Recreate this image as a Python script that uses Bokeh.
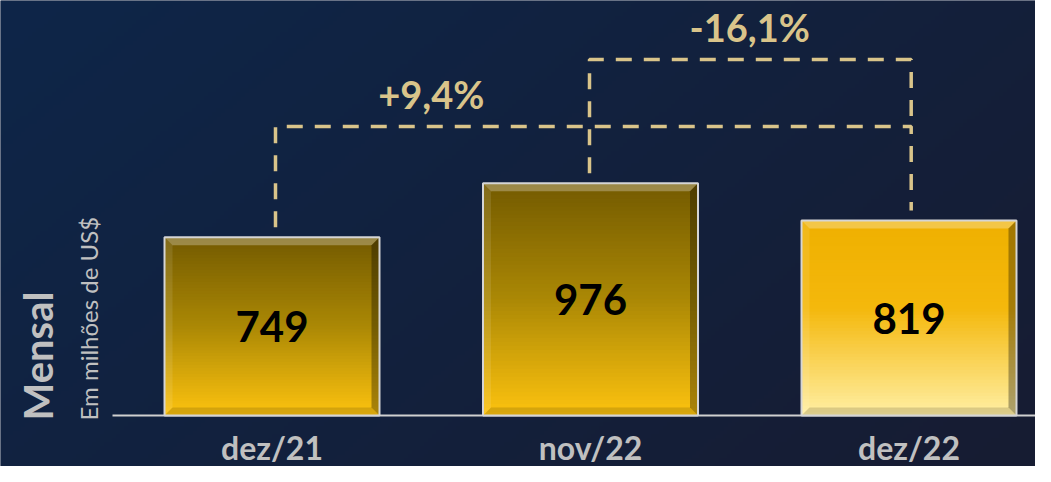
import numpy as np
from bokeh.plotting import figure
from bokeh.models import ColumnDataSource
from bokeh.core.properties import value
from bokeh.embed import file_html
from bokeh.resources import INLINE

# ---------------- data ----------------
categories = ["dez/21", "nov/22", "dez/22"]
values = [749, 976, 819]
comparisons = [(0, 2), (1, 2)]          # (from index, to index)
comparison_labels = ["+9,4%", "-16,1%"]
axis_title = "Mensal"
axis_subtitle = "Em milhões de US$"

# ---------------- layout ----------------
W, H = 1035, 466
PX_X = 318.5          # pixels per category step
PX_Y = 0.238          # pixels per value unit
BASE_PX = 415         # baseline pixel row
x0 = -271.5 / PX_X
x1 = x0 + W / PX_X
y0 = -(H - BASE_PX) / PX_Y
y1 = BASE_PX / PX_Y
BAR_W = 0.675


def xpx(px):
    return x0 + px / PX_X


def ypx(py):
    return (BASE_PX - py) / PX_Y


FONT = value("Lato")
GOLD_TXT = "#D9C48A"
GREY_TXT = "#C0C0C0"

p = figure(width=W, height=H, x_range=(x0, x1), y_range=(y0, y1),
           x_axis_type=None, y_axis_type=None, min_border=0,
           toolbar_location=None, output_backend="svg")
p.grid.visible = False
p.outline_line_color = None
p.background_fill_color = "#13213F"
p.border_fill_color = "#13213F"

# ---------------- background gradient ----------------
gh, gw = 117, 259
yy, xx = np.mgrid[0:gh, 0:gw]
t = (xx / (gw - 1)) * 0.65 + (1 - yy / (gh - 1)) * 0.35   # 0 at top-left, 1 bottom-right
c0 = np.array([14, 38, 73])
c1 = np.array([23, 28, 50])
rgb = c0[None, None, :] * (1 - t[..., None]) + c1[None, None, :] * t[..., None]
img = np.empty((gh, gw), dtype=np.uint32)
view = img.view(dtype=np.uint8).reshape((gh, gw, 4))
view[..., 0] = rgb[..., 0]
view[..., 1] = rgb[..., 1]
view[..., 2] = rgb[..., 2]
view[..., 3] = 255
p.image_rgba(image=[img], x=x0, y=y0, dw=x1 - x0, dh=y1 - y0)

# ---------------- baseline ----------------
p.segment(x0=[xpx(112)], y0=[0], x1=[x1], y1=[0], line_color="#D0D0D0", line_width=2)


# ---------------- bars with gradient ----------------
def hex2rgb(h):
    h = h.lstrip("#")
    return np.array([int(h[i:i + 2], 16) for i in (0, 2, 4)], dtype=float)


def interp(stops, f):
    for (fa, ca), (fb, cb) in zip(stops[:-1], stops[1:]):
        if fa <= f <= fb:
            u = (f - fa) / (fb - fa) if fb > fa else 0
            c = hex2rgb(ca) * (1 - u) + hex2rgb(cb) * u
            return "#%02x%02x%02x" % tuple(int(round(v)) for v in c)
    return stops[-1][1]


dark_stops = [(0.0, "#735A00"), (0.5, "#AB8805"), (1.0, "#FDC30F")]
light_stops = [(0.0, "#EFB000"), (0.45, "#F4B80C"), (1.0, "#FFEFA4")]
bar_stops = [dark_stops, dark_stops, light_stops]

N = 60
qs = dict(left=[], right=[], bottom=[], top=[], color=[])
for i, v in enumerate(values):
    for k in range(N):
        qs["left"].append(i - BAR_W / 2)
        qs["right"].append(i + BAR_W / 2)
        qs["top"].append(v * (1 - k / N))
        qs["bottom"].append(max(0.0, v * (1 - (k + 1.8) / N)))
        qs["color"].append(interp(bar_stops[i], (k + 0.5) / N))
p.quad(left="left", right="right", bottom="bottom", top="top", fill_color="color",
       line_color=None, source=ColumnDataSource(qs))

# bevel
bx, by = 8 / PX_X, 8 / PX_Y
bev = dict(xs=[], ys=[], color=[], alpha=[])
for i, v in enumerate(values):
    xl, xr = i - BAR_W / 2, i + BAR_W / 2
    bev["xs"] += [[xl, xr, xr - bx, xl + bx], [xl, xl, xl + bx, xl + bx],
                  [xr, xr, xr - bx, xr - bx], [xl, xr, xr - bx, xl + bx]]
    bev["ys"] += [[v, v, v - by, v - by], [0, v, v - by, by],
                  [0, v, v - by, by], [0, 0, by, by]]
    bev["color"] += ["white", "white", "black", "black"]
    bev["alpha"] += [0.28, 0.10, 0.32, 0.14]
p.patches(xs="xs", ys="ys", fill_color="color", fill_alpha="alpha", line_color=None,
          source=ColumnDataSource(bev))

p.vbar(x=list(range(len(values))), top=values, width=BAR_W, bottom=0,
       fill_color=None, line_color="#D5D5D5", line_width=2)

# value labels
p.text(x=list(range(len(values))), y=[v / 2 for v in values], text=[str(v) for v in values],
       text_font=FONT, text_font_style="bold", text_font_size="42px", text_color="black",
       text_align="center", text_baseline="middle")

# category labels
p.text(x=list(range(len(categories))), y=[ypx(447)] * len(categories), text=categories,
       text_font=FONT, text_font_style="bold", text_font_size="32px", text_color=GREY_TXT,
       text_align="center", text_baseline="middle")

# ---------------- comparison brackets ----------------
levels = [ypx(126), ypx(59)]
gap = 10 / PX_Y
(a, b), (a2, b2) = comparisons
bxs = [[a + 3.5 / PX_X, a + 3.5 / PX_X, b + 2.2 / PX_X, b + 2.2 / PX_X],
       [a2 - 1 / PX_X, a2 - 1 / PX_X, b2 + 2.2 / PX_X, b2 + 2.2 / PX_X]]
bys = [[values[a] + gap, levels[0], levels[0], values[b] + gap],
       [values[a2] + gap, levels[1], levels[1], levels[0]]]
p.multi_line(xs=bxs, ys=bys, line_color=GOLD_TXT, line_width=3.5, line_dash="16 12")

lx = [(a + a + 1) / 2, (a2 + b2) / 2]
ly = [lev + 33 / PX_Y for lev in levels]
p.text(x=lx, y=ly, text=comparison_labels, text_font=FONT, text_font_style="bold",
       text_font_size="38px", text_color=GOLD_TXT, text_align="center", text_baseline="middle")

# ---------------- vertical titles ----------------
p.text(x=[xpx(37)], y=[ypx(420)], text=[axis_title], angle=np.pi / 2,
       text_font=FONT, text_font_style="bold", text_font_size="40px", text_color=GREY_TXT,
       text_align="left", text_baseline="middle")
p.text(x=[xpx(88)], y=[ypx(420)], text=[axis_subtitle], angle=np.pi / 2,
       text_font=FONT, text_font_size="24px", text_color=GREY_TXT,
       text_align="left", text_baseline="middle")

open("out.html", "w").write(file_html(p, INLINE))
